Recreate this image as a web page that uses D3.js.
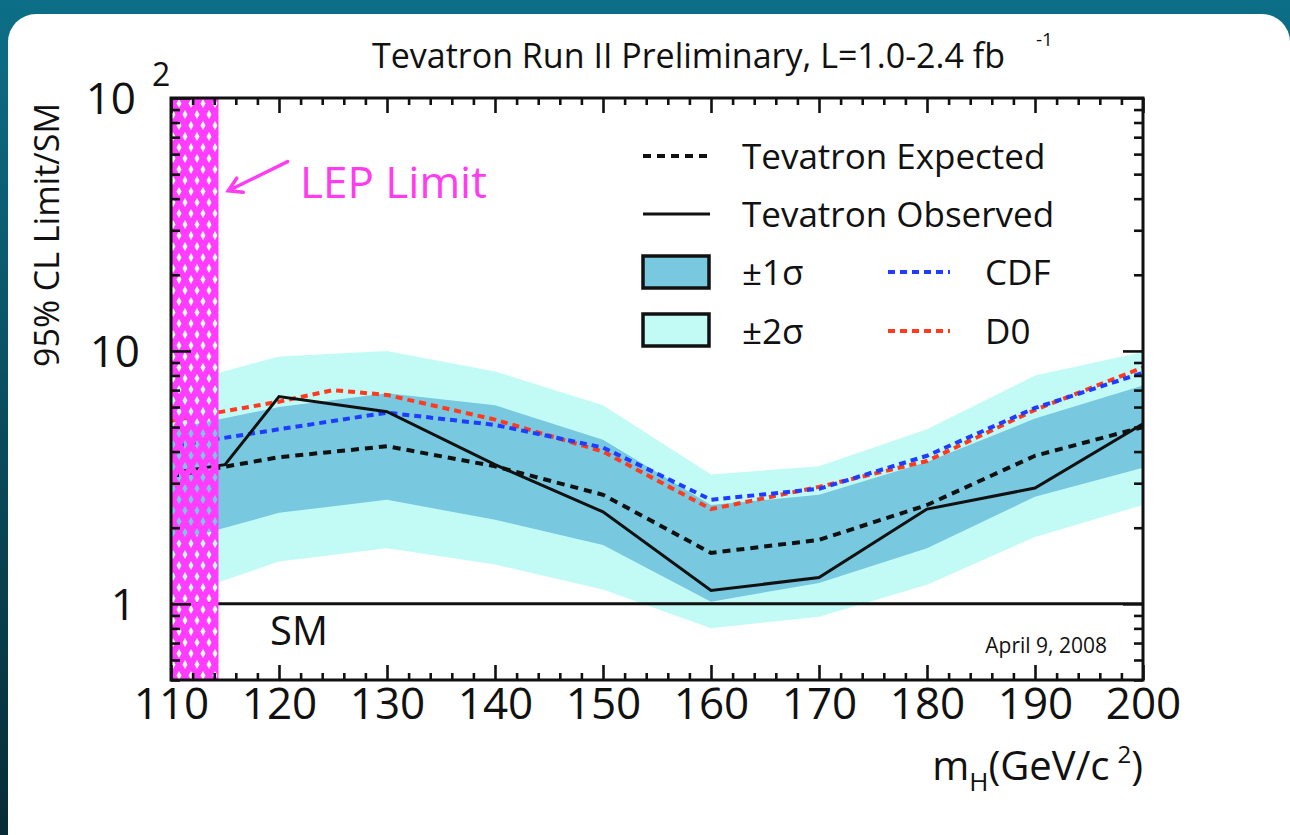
<!DOCTYPE html>
<html><head><meta charset="utf-8">
<script src="https://cdn.jsdelivr.net/npm/d3@7"></script>
<style>
html,body{margin:0;padding:0;background:#0a5a6e;overflow:hidden;}
svg{display:block;}
text{font-family:"Open Sans","Noto Sans",sans-serif;fill:#111;}
</style></head><body>
<svg id="c" width="1290" height="835"></svg>
<script>
// ---------- data ----------
const massBand   = [110,120,130,140,150,160,170,180,190,200];
const sigma2Up   = [7.3, 9.5, 10.0, 8.3, 6.1, 3.25, 3.5, 4.9, 8.0, 9.9];
const sigma1Up   = [4.9, 6.0, 6.8, 6.1, 4.45, 2.46, 2.7, 3.64, 5.4, 7.3];
const sigma1Lo   = [1.75, 2.29, 2.58, 2.15, 1.71, 1.02, 1.21, 1.66, 2.65, 3.45];
const sigma2Lo   = [1.05, 1.47, 1.66, 1.43, 1.14, 0.80, 0.89, 1.19, 1.84, 2.46];
const expected   = [3.2, 3.8, 4.2, 3.5, 2.7, 1.59, 1.79, 2.46, 3.85, 5.0];
const massObs    = [110,115,120,130,140,150,160,170,180,190,200];
const observed   = [3.3, 3.55, 6.6, 5.75, 3.55, 2.31, 1.13, 1.27, 2.37, 2.87, 5.15];
const massCDF    = [110,120,130,140,150,160,170,180,190,200];
const cdf        = [4.2, 4.9, 5.7, 5.1, 4.15, 2.58, 2.85, 3.85, 5.95, 8.2];
const massD0     = [110,120,125,130,140,150,160,170,180,190,200];
const d0         = [5.3, 6.3, 7.0, 6.7, 5.35, 4.0, 2.37, 2.9, 3.67, 5.85, 8.6];
const xTickLabels = ["110","120","130","140","150","160","170","180","190","200"];
const lepLimit = 114.4;

// ---------- layout ----------
const svg = d3.select("#c");
const W = 1290, H = 835;
const L = 171, R = 1143, T = 98, B = 680;
const FONT_TICK = 44;

const defs = svg.append("defs");
const bg = defs.append("linearGradient").attr("id","bg").attr("x1",0).attr("y1",0).attr("x2",0).attr("y2",1);
bg.append("stop").attr("offset","0%").attr("stop-color","#0c6f87");
bg.append("stop").attr("offset","100%").attr("stop-color","#072b37");
svg.append("rect").attr("width",W).attr("height",H).attr("fill","url(#bg)");
svg.append("rect").attr("x",8).attr("y",14).attr("width",1282).attr("height",900).attr("rx",28).attr("fill","#fff");

const pat = defs.append("pattern").attr("id","hatch").attr("patternUnits","userSpaceOnUse")
  .attr("width",12).attr("height",22).attr("x",L+2).attr("y",T);
pat.append("path").attr("fill","#ff3cff").attr("fill-rule","evenodd")
  .attr("d","M0,0H12V22H0Z M6,1 L8.5,5.5 L6,10 L3.5,5.5Z M0,12 L2.5,16.5 L0,21Z M12,12 L12,21 L9.5,16.5Z");

defs.append("clipPath").attr("id","plotclip").append("rect")
  .attr("x",L).attr("y",T).attr("width",R-L).attr("height",B-T);

const x = d3.scaleLinear().domain([110,200]).range([L,R]);
const y = d3.scaleLog().domain([0.5,100]).range([B,T]);

const plot = svg.append("g").attr("clip-path","url(#plotclip)");

function band(ms, lo, hi){
  return d3.area().x((d,i)=>x(ms[i])).y0((d,i)=>y(lo[i])).y1((d,i)=>y(hi[i]))(ms);
}
plot.append("path").attr("d",band(massBand,sigma2Lo,sigma2Up)).attr("fill","#c2fbf5");
plot.append("path").attr("d",band(massBand,sigma1Lo,sigma1Up)).attr("fill","#78c8e0");

function linePath(ms, vs){
  return d3.line().x((d,i)=>x(ms[i])).y((d,i)=>y(vs[i]))(ms);
}
plot.append("path").attr("d",linePath(massBand,expected)).attr("fill","none")
  .attr("stroke","#111").attr("stroke-width",4).attr("stroke-dasharray","8,6");
plot.append("path").attr("d",linePath(massD0,d0)).attr("fill","none")
  .attr("stroke","#ff3a1e").attr("stroke-width",4).attr("stroke-dasharray","7,5");
plot.append("path").attr("d",linePath(massCDF,cdf)).attr("fill","none")
  .attr("stroke","#1f3cff").attr("stroke-width",4).attr("stroke-dasharray","7,5").attr("stroke-dashoffset",6);
plot.append("path").attr("d",linePath(massObs,observed)).attr("fill","none")
  .attr("stroke","#111").attr("stroke-width",3);

// SM line
plot.append("line").attr("x1",L).attr("x2",R).attr("y1",y(1)).attr("y2",y(1))
  .attr("stroke","#111").attr("stroke-width",3);

// LEP hatch
plot.append("rect").attr("x",x(110)).attr("y",T).attr("width",x(lepLimit)-x(110)).attr("height",B-T)
  .attr("fill","url(#hatch)");

// ---------- axes ----------
const xMajor = d3.range(110,201,10);
const xMinor = d3.range(110,201,2).filter(v=>v%10!==0);
const yAll = y.ticks();
const yMajor = [1,10,100];
const yMinor = yAll.filter(v=>!yMajor.includes(v));

function styleAxis(g){
  g.select(".domain").remove();
  g.selectAll(".tick line").attr("stroke","#111").attr("stroke-width",2.6);
}
svg.append("g").attr("transform",`translate(0,${B})`)
  .call(d3.axisBottom(x).tickValues(xMinor).tickSizeInner(-7).tickSizeOuter(0).tickFormat(""))
  .call(styleAxis);
const xAxG = svg.append("g").attr("transform",`translate(0,${B})`)
  .call(d3.axisBottom(x).tickValues(xMajor).tickSizeInner(-15).tickSizeOuter(0).tickPadding(8)
        .tickFormat((d,i)=>xTickLabels[i]))
  .call(styleAxis);
xAxG.selectAll("text").attr("font-size",FONT_TICK).attr("fill","#111")
  .style("font-family",'"Open Sans","Noto Sans",sans-serif');

svg.append("g").attr("transform",`translate(0,${T})`)
  .call(d3.axisTop(x).tickValues(xMinor).tickSizeInner(-7).tickSizeOuter(0).tickFormat(""))
  .call(styleAxis);
svg.append("g").attr("transform",`translate(0,${T})`)
  .call(d3.axisTop(x).tickValues(xMajor).tickSizeInner(-15).tickSizeOuter(0).tickFormat(""))
  .call(styleAxis);

svg.append("g").attr("transform",`translate(${L},0)`)
  .call(d3.axisLeft(y).tickValues(yMinor).tickSizeInner(-9).tickSizeOuter(0).tickFormat(""))
  .call(styleAxis);
svg.append("g").attr("transform",`translate(${L},0)`)
  .call(d3.axisLeft(y).tickValues(yMajor).tickSizeInner(-20).tickSizeOuter(0).tickFormat(""))
  .call(styleAxis);
svg.append("g").attr("transform",`translate(${R},0)`)
  .call(d3.axisRight(y).tickValues(yMinor).tickSizeInner(-9).tickSizeOuter(0).tickFormat(""))
  .call(styleAxis);
svg.append("g").attr("transform",`translate(${R},0)`)
  .call(d3.axisRight(y).tickValues(yMajor).tickSizeInner(-20).tickSizeOuter(0).tickFormat(""))
  .call(styleAxis);

// frame
svg.append("rect").attr("x",L).attr("y",T).attr("width",R-L).attr("height",B-T)
  .attr("fill","none").attr("stroke","#111").attr("stroke-width",3);

// y tick labels
svg.append("text").attr("x",136).attr("y",y(100)).attr("dy","0.36em").attr("text-anchor","end")
  .attr("font-size",FONT_TICK).text("10");
svg.append("text").attr("x",152).attr("y",y(100)-12).attr("font-size",32).text("2");
svg.append("text").attr("x",140).attr("y",y(10)).attr("dy","0.36em").attr("text-anchor","end")
  .attr("font-size",FONT_TICK).text("10");
svg.append("text").attr("x",136).attr("y",y(1)).attr("dy","0.36em").attr("text-anchor","end")
  .attr("font-size",FONT_TICK).text("1");

// axis titles
svg.append("text").attr("transform","translate(59,235) rotate(-90)").attr("text-anchor","middle")
  .attr("font-size",34).text("95% CL Limit/SM");
const xt = svg.append("text").attr("x",R).attr("y",780).attr("text-anchor","end").attr("font-size",40);
xt.append("tspan").text("m");
xt.append("tspan").attr("font-size",26).attr("dy",11).text("H");
xt.append("tspan").attr("dy",-11).text("(GeV/c");
xt.append("tspan").attr("font-size",24).attr("dy",-17).attr("dx",8).text("2");
xt.append("tspan").attr("dy",17).text(")");

// title
svg.append("text").attr("x",1005).attr("y",68).attr("text-anchor","end").attr("font-size",34)
  .text("Tevatron Run II Preliminary, L=1.0-2.4 fb");
svg.append("text").attr("x",1036).attr("y",46).attr("font-size",19).text("-1");

// legend
const lg = svg.append("g");
lg.append("line").attr("x1",643).attr("x2",710).attr("y1",156).attr("y2",156)
  .attr("stroke","#111").attr("stroke-width",4).attr("stroke-dasharray","8,6");
lg.append("line").attr("x1",643).attr("x2",710).attr("y1",214).attr("y2",214)
  .attr("stroke","#111").attr("stroke-width",3);
lg.append("rect").attr("x",643).attr("y",256).attr("width",66).attr("height",32)
  .attr("fill","#78c8e0").attr("stroke","#111").attr("stroke-width",3.5);
lg.append("rect").attr("x",643).attr("y",314).attr("width",66).attr("height",32)
  .attr("fill","#c2fbf5").attr("stroke","#111").attr("stroke-width",3.5);
lg.append("line").attr("x1",888).attr("x2",950).attr("y1",272).attr("y2",272)
  .attr("stroke","#1f3cff").attr("stroke-width",4).attr("stroke-dasharray","7,5");
lg.append("line").attr("x1",888).attr("x2",950).attr("y1",331).attr("y2",331)
  .attr("stroke","#ff3a1e").attr("stroke-width",4).attr("stroke-dasharray","7,5");
const LG_FONT = 35;
lg.append("text").attr("x",742).attr("y",156).attr("dy","0.36em").attr("font-size",LG_FONT).text("Tevatron Expected");
lg.append("text").attr("x",742).attr("y",214).attr("dy","0.36em").attr("font-size",LG_FONT).text("Tevatron Observed");
lg.append("text").attr("x",742).attr("y",272).attr("dy","0.36em").attr("font-size",LG_FONT).text("\u00b11\u03c3");
lg.append("text").attr("x",742).attr("y",331).attr("dy","0.36em").attr("font-size",LG_FONT).text("\u00b12\u03c3");
lg.append("text").attr("x",985).attr("y",272).attr("dy","0.36em").attr("font-size",LG_FONT).text("CDF");
lg.append("text").attr("x",985).attr("y",331).attr("dy","0.36em").attr("font-size",LG_FONT).text("D0");

// LEP annotation
const tipX = x(115.3), tipY = y(43), tailX = x(120.8), tailY = y(56);
svg.append("path").attr("fill","none").attr("stroke","#ff3cf0").attr("stroke-width",3.5)
  .attr("stroke-linecap","round")
  .attr("d",`M${tailX},${tailY}L${tipX},${tipY}M${tipX+15},${tipY+1.5}L${tipX},${tipY}L${tipX+8.5},${tipY-12.5}`);
svg.append("text").attr("x",300).attr("y",198).attr("font-size",44).style("fill","#ff3cf0").text("LEP Limit");

svg.append("text").attr("x",270).attr("y",645).attr("font-size",40).text("SM");
svg.append("text").attr("x",1107).attr("y",653).attr("text-anchor","end").attr("font-size",21).text("April 9, 2008");
</script>
</body></html>
